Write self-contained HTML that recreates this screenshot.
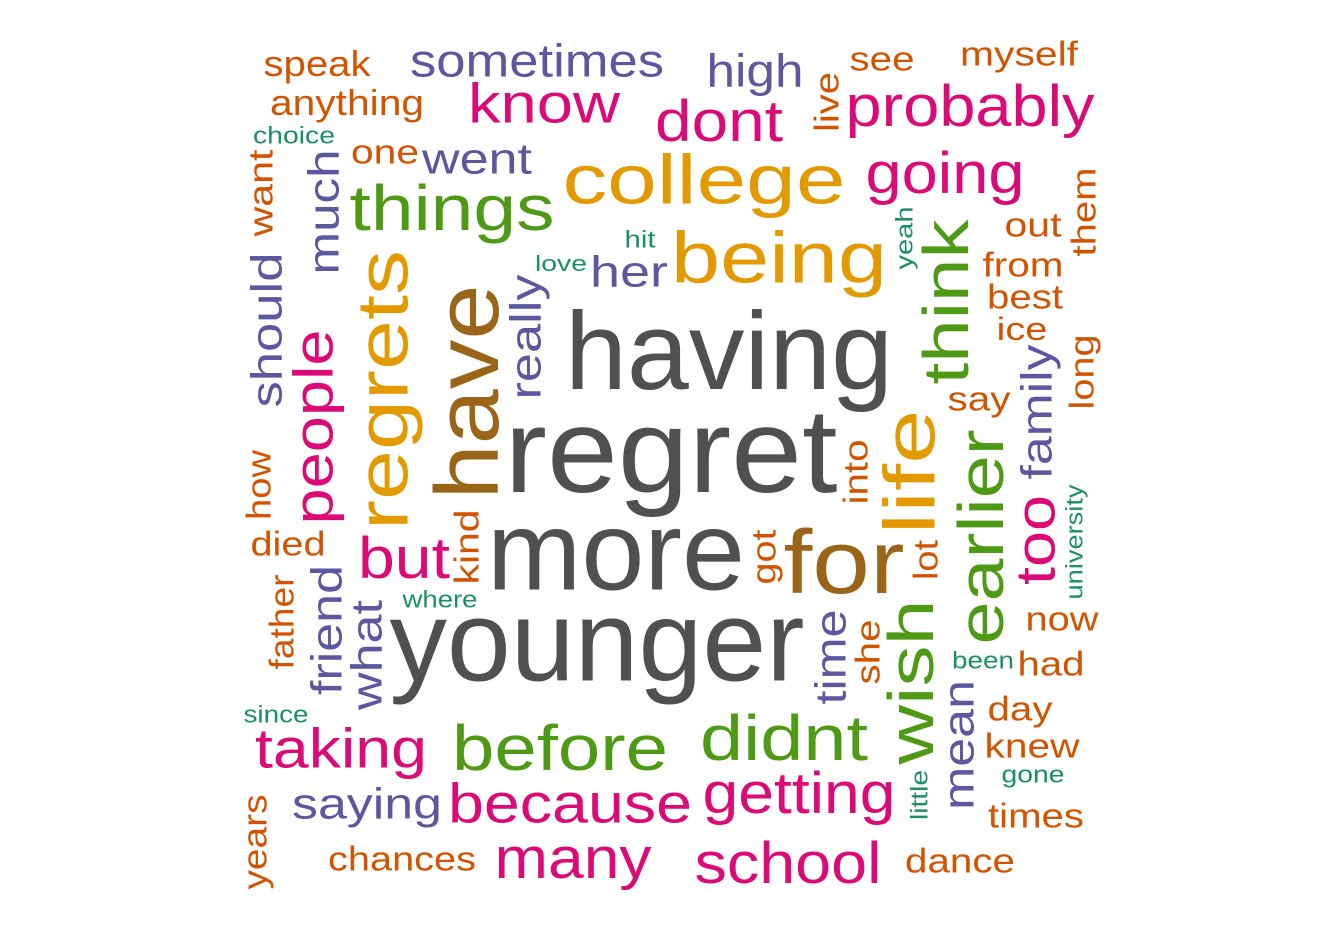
<!DOCTYPE html>
<html><head><meta charset="utf-8"><style>
html,body{margin:0;padding:0;background:#fff}
svg{display:block}
text{font-family:"Liberation Sans",Arial,sans-serif}
</style></head><body>
<svg id="cloud" width="1344" height="930" viewBox="0 0 1344 930" xmlns="http://www.w3.org/2000/svg"></svg>
<script>
const C={o:"#d35400",p:"#5c58a0",k:"#db0a76",g:"#4e9a15",y:"#e29a00",b:"#9a6518",t:"#1b8f68",d:"#505050"};
const words=["speak","sometimes","high","see","myself","anything","know","dont","probably","choice","one","went","college","going","things","hit","out","being","love","her","from","best","ice","having","say","regret","more","for","but","died","where","younger","now","been","had","since","day","taking","before","didnt","knew","gone","getting","saying","because","times","chances","many","school","dance",
"live","want","much","should","yeah","think","them","regrets","have","really","people","long","family","life","into","earlier","how","university","too","kind","got","lot","friend","what","father","time","she","wish","mean","little","years"];
const colors=["o","p","p","o","o","o","k","k","k","t","o","p","y","k","g","t","o","y","t","p","o","o","o","d","o","d","d","b","k","o","t","d","o","t","o","t","o","k","g","g","o","t","k","p","k","o","o","k","k","o",
"o","o","p","p","t","g","o","y","b","p","k","o","p","y","o","g","o","t","k","o","o","o","p","p","o","p","o","g","p","t","o"];
const cx=[317,537,755,882,1019,347,544,719,970,294,385,477,704,945,452,640,1033,779,561,629,1023,1025,1022,729,979,671,616,844,404,288,440,597,1062,983,1051,276,1020,341,560,784,1032,1033,799,367,570,1036,402,573,788,960,
828,262,325,268,905,948,1085,385,470,527,315,1083,1038,912,857,983,260,1075,1037,468,765,927,328,368,283,832,869,913,960,920,256];
const cy=[65,62,72,60,55,104,105,123,108,136,153,160,182,175,210,240,226,260,264,273,266,298,330,355,400,455,555,565,560,545,600,645,620,661,665,715,710,750,750,740,747,775,795,805,805,817,860,860,865,862,
102,193,212,330,238,302,212,390,392,337,427,372,412,472,472,537,485,542,540,547,557,560,630,655,622,657,652,682,745,795,842];
const len=[107,254,97,65,118,154,152,128,249,82,68,110,283,159,205,31,57,216,52,78,81,76,51,328,63,333,258,121,92,75,75,415,73,62,67,65,65,172,216,168,95,63,193,150,244,96,148,157,187,110,
60,87,125,155,63,165,89,280,215,125,195,75,135,125,65,215,70,115,90,75,55,40,130,110,95,95,65,165,130,50,95];
const size=[36,46,46,34,34,36,56,58,58,24,34,44,70,58,64,24,34,72,22,44,34,34,32,110,34,120,112,90,58,34,24,115,34,24,34,24,34,56,64,64,34,24,58,44,56,34,34,58,58,34,
34,34,44,44,24,64,34,72,90,44,56,34,44,72,34,64,34,24,56,34,34,34,44,44,34,44,34,64,44,24,34];
const svg=document.getElementById('cloud');
const NS="http://www.w3.org/2000/svg";
words.forEach((w,i)=>{
  const t=document.createElementNS(NS,'text');
  
  
  const s=size[i];
  t.setAttribute('font-size',s);
  t.setAttribute('text-anchor','middle');
  t.setAttribute('textLength',len[i]);
  t.setAttribute('lengthAdjust','spacingAndGlyphs');
  t.setAttribute('fill',C[colors[i]]);
  if(i>=50){
    const bx=cx[i]+0.31*s, by=cy[i];
    t.setAttribute('x',0);t.setAttribute('y',0);
    t.setAttribute('transform','translate('+bx+','+by+') rotate(-90)');
  }else{
    t.setAttribute('x',cx[i]);t.setAttribute('y',cy[i]+0.31*s);
  }
  t.textContent=w;
  svg.appendChild(t);
});
</script>
</body></html>
